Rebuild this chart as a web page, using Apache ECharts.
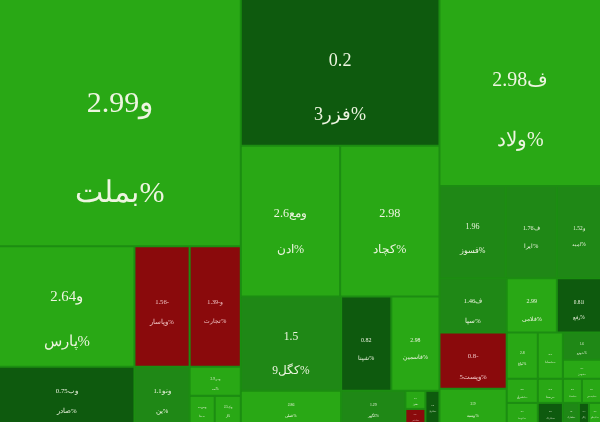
<!DOCTYPE html>
<html>
<head>
<meta charset="utf-8">
<script src="https://cdn.jsdelivr.net/npm/echarts@6/dist/echarts.min.js"></script>
<style>
  html, body { margin: 0; padding: 0; background: #fff; }
  #chart { width: 600px; height: 422px; }
</style>
</head>
<body>
<div id="chart"></div>
<script>
// symbol of each cell, '|' marks where the label wraps onto the second line
const symbols = [
  'و|بملت', 'و|پارس', 'وب|صادر', '|وپاسار', 'و|تجارت', 'ونو|ین', 'وبی|مه', 'وس|ینا', 'وک|ار',
  '|فزر3', 'ومع|ادن', '|کچاد', '|کگل9', '|فملی', '|شپنا', '|فاسمین', '|کگهر', '|فخوز', '|شبندر', '|شتران',
  'ف|ولاد', '|فسوز', 'ف|ایرا', 'و|امید', 'ف|سپا', '|فلامی', 'ا|رفع', '|وپست5', '|وسپه',
  '|ثباغ', '|ثشرق', '|ثنوسا', '|خساپا', '|خودرو', '|خبهمن', '|رمپنا', '|شاراک', '|شستا', '|شپدیس',
  '|شخارک', '|زاگرس', '|تاپیکو'
];
// daily change in percent
const changes = [
  2.99, 2.64, 0.75, -1.56, -1.39, 1.1, 2.9, 2.7, 2.5,
  0.2, 2.6, 2.98, 1.5, 2.86, 0.82, 2.98, 1.29, 2.7, -0.5, 0.4,
  2.98, 1.96, 1.76, 1.52, 1.46, 2.99, 0.81, -0.8, 2.9,
  2.8, 2.6, 2.7, 2.9, 1.6, 2.7, 2.6, 0.5, 2.8, 2.9,
  1.4, 0.3, 2.6
];
// size of each cell (market value)
const sizes = [
  59286, 16200, 7560, 6600, 6120, 3080, 1479, 675, 702,
  28908, 14850, 14850, 9400, 3200, 4700, 4512, 2048, 360, 280, 448,
  29946, 6072, 4692, 4048, 3618, 2700, 2376, 3752, 2278,
  1426, 744, 620, 1150, 1026, 722, 600, 500, 456, 456,
  320, 200, 240
];
// how the cells are grouped (indices into the arrays above)
const groups = [
  [
    [0, [[[1, 2], [3, 5]], [4, [6, [7, 8]]]]],
    [9, [10, 11], [[12, 13], [[14, 15], [16, [[17, 18], 19]]]]]
  ],
  [20, [[21, [22, 23]], [[24, 27, 28], [[25, 26], [[29, 30, 31], [[32, [33, 34]], [[35, 36], [[37, 38], [39, 40, 41]]]]]]]]]
];

function colorOf(c) {
  if (c < 0) return '#8a0a0c';
  if (c < 1) return '#0e5a0e';
  if (c < 2.5) return '#1f8816';
  return '#29a815';
}

const nodesByCell = {};

function buildNode(item) {
  if (Array.isArray(item)) {
    return { name: '', children: item.map(buildNode) };
  }
  const parts = symbols[item].split('|');
  const node = {
    name: parts.join(''),
    value: sizes[item],
    cell: item,
    head: parts[0],
    tail: parts[1],
    change: changes[item],
    itemStyle: { color: colorOf(changes[item]) },
    label: { color: changes[item] < 0 ? '#f0c4c4' : '#edf5e0' }
  };
  nodesByCell[item] = node;
  return node;
}

const data = groups.map(buildNode);

function makeOption() {
  return {
    animation: false,
    series: [{
      type: 'treemap',
      left: 0,
      top: 0,
      width: '100%',
      height: '100%',
      roam: false,
      nodeClick: false,
      silent: true,
      sort: false,
      squareRatio: 0.0001,
      visibleMin: 0,
      breadcrumb: { show: false },
      itemStyle: { borderWidth: 0, gapWidth: 2, borderColor: '#1c8d12' },
      upperLabel: { show: false },
      label: {
        show: true,
        position: 'inside',
        padding: 0,
        fontFamily: '"Liberation Serif", "DejaVu Serif", serif',
        ellipsis: '',
        formatter: function (p) {
          const d = p.data;
          let head = d.head;
          if (!head && d.change < 0) head = '\u200F';
          return head + d.change + '\n' + d.tail + '%';
        }
      },
      data: data
    }]
  };
}

const chart = echarts.init(document.getElementById('chart'));
chart.setOption(makeOption());

// size the labels from the cells the treemap laid out
const seriesData = chart.getModel().getSeriesByIndex(0).getData();
for (let i = 0; i < seriesData.count(); i++) {
  const raw = seriesData.getRawDataItem(i);
  const lay = seriesData.getItemLayout(i);
  if (!raw || raw.cell == null || !lay) continue;
  const node = nodesByCell[raw.cell];
  const fs = Math.max(2, Math.min(0.125 * Math.sqrt(node.value), Math.min(lay.width, lay.height) / 8));
  const lh = Math.min(3 * fs, lay.height * 0.42);
  node.label.fontSize = fs;
  node.label.lineHeight = lh;
  node.label.offset = [0, 0.3 * lh];
}
chart.setOption(makeOption(), true);
</script>
</body>
</html>
